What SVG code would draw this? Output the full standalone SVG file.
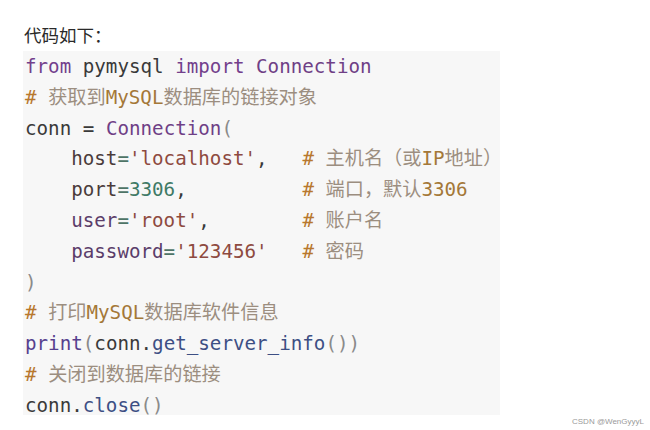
<svg xmlns="http://www.w3.org/2000/svg" width="650" height="430" viewBox="0 0 650 430">
<style>
.code{font-family:"DejaVu Sans Mono","Liberation Mono",monospace;font-size:19.2px;fill:#3a3a3a}
.cjk{font-family:"Noto Sans CJK SC",sans-serif;font-size:19.2px}
.kw{fill:#733f8c}
.cls{fill:#6f3f86}
.par{fill:#8a8a8a}
.str{fill:#8e4a40}
.num{fill:#3f7a66}
.eq{fill:#4e7466}
.arg{fill:#4a3b3b}
.arg2{fill:#5b3d6a}
.fn{fill:#3d4f84}
.pr{fill:#56408e}
.hash{fill:#b8782e}
.cmt{fill:#9c8e80}
.cmtm{fill:#a47838}
</style>
<rect width="650" height="430" fill="#ffffff"/>
<text x="24" y="42" font-family="Noto Sans CJK SC,sans-serif" font-size="17.5" fill="#2a2a2a">代码如下：</text>
<rect x="23" y="51" width="477" height="364" fill="#f7f7f7"/>
<g id="code">
<text class="code" x="25" y="73"><tspan class="kw">from</tspan> pymysql <tspan class="kw">import</tspan> <tspan class="cls">Connection</tspan></text>
<text class="code" x="25" y="103.8"><tspan class="hash">#</tspan> <tspan class="cjk cmt">获取到</tspan><tspan class="cmtm">MySQL</tspan><tspan class="cjk cmt">数据库的链接对象</tspan></text>
<text class="code" x="25" y="134.6">conn = <tspan class="cls">Connection</tspan><tspan class="par">(</tspan></text>
<text class="code" x="71.2" y="165.4"><tspan class="arg">host</tspan><tspan class="eq">=</tspan><tspan class="str">'localhost'</tspan>,</text>
<text class="code" x="302.4" y="165.4"><tspan class="hash">#</tspan> <tspan class="cjk cmt">主机名（或</tspan><tspan class="cmtm">IP</tspan><tspan class="cjk cmt">地址）</tspan></text>
<text class="code" x="71.2" y="196.2"><tspan class="arg">port</tspan><tspan class="eq">=</tspan><tspan class="num">3306</tspan>,</text>
<text class="code" x="302.4" y="196.2"><tspan class="hash">#</tspan> <tspan class="cjk cmt">端口，默认</tspan><tspan class="cmtm">3306</tspan></text>
<text class="code" x="71.2" y="227"><tspan class="arg2">user</tspan><tspan class="eq">=</tspan><tspan class="str">'root'</tspan>,</text>
<text class="code" x="302.4" y="227"><tspan class="hash">#</tspan> <tspan class="cjk cmt">账户名</tspan></text>
<text class="code" x="71.2" y="257.8"><tspan class="arg2">password</tspan><tspan class="eq">=</tspan><tspan class="str">'123456'</tspan></text>
<text class="code" x="302.4" y="257.8"><tspan class="hash">#</tspan> <tspan class="cjk cmt">密码</tspan></text>
<text class="code par" x="25" y="288.6">)</text>
<text class="code" x="25" y="319.4"><tspan class="hash">#</tspan> <tspan class="cjk cmt">打印</tspan><tspan class="cmtm">MySQL</tspan><tspan class="cjk cmt">数据库软件信息</tspan></text>
<text class="code" x="25" y="350.2"><tspan class="pr">print</tspan><tspan class="par">(</tspan>conn.<tspan class="fn">get_server_info</tspan><tspan class="par">())</tspan></text>
<text class="code" x="25" y="381"><tspan class="hash">#</tspan> <tspan class="cjk cmt">关闭到数据库的链接</tspan></text>
<text class="code" x="25" y="411.8">conn.<tspan class="fn">close</tspan><tspan class="par">()</tspan></text>
</g>
<text x="644" y="424" text-anchor="end" font-family="Liberation Sans,sans-serif" font-size="8" fill="#9a9a9a">CSDN @WenGyyyL</text>
</svg>
